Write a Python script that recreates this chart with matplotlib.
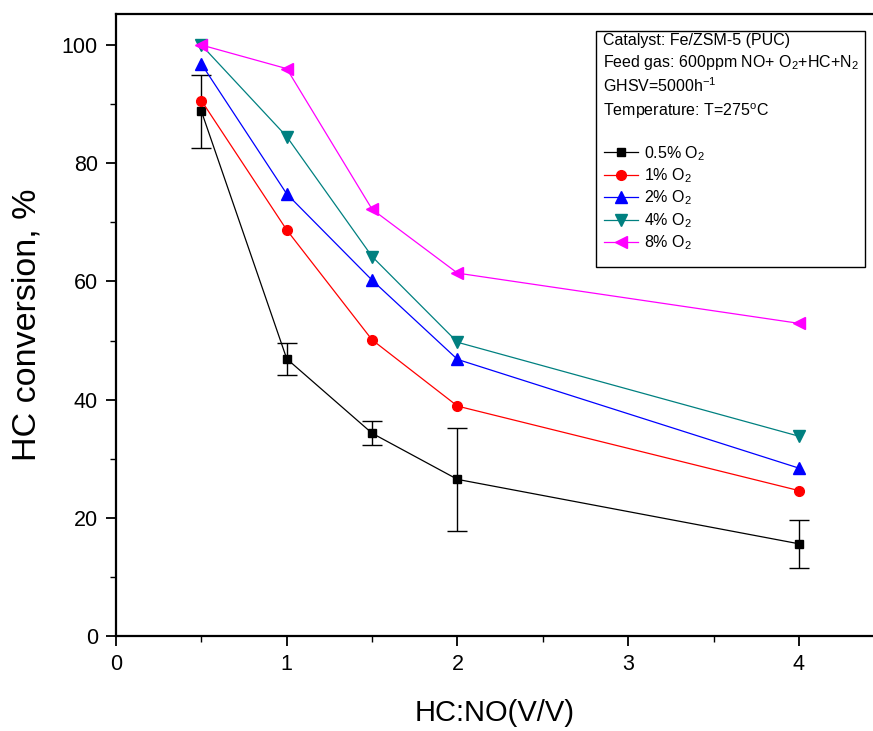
import matplotlib
matplotlib.use('Agg')
import matplotlib.pyplot as plt
from matplotlib.patches import Rectangle
from matplotlib.ticker import MultipleLocator

plt.rcParams['font.family'] = ['Liberation Sans', 'DejaVu Sans']
plt.rcParams['mathtext.fontset'] = 'custom'
plt.rcParams['mathtext.rm'] = 'Liberation Sans'

ratio = [0.5, 1, 1.5, 2, 4]
o2_05 = [88.8, 46.9, 34.3, 26.5, 15.6]
o2_05_err = [6.2, 2.7, 2.0, 8.7, 4.1]
o2_1 = [90.6, 68.7, 50.1, 38.9, 24.6]
o2_2 = [96.8, 74.8, 60.2, 46.8, 28.4]
o2_4 = [100.0, 84.5, 64.2, 49.7, 33.8]
o2_8 = [100.0, 96.0, 72.2, 61.4, 52.9]

labels = ['0.5% O$_2$', '1% O$_2$', '2% O$_2$', '4% O$_2$', '8% O$_2$']

fig = plt.figure(figsize=(8.73, 7.31), dpi=100)
ax = fig.add_axes([116 / 873, 1 - 636 / 731, 1 - 116 / 873, (636 - 14) / 731])

# error bars drawn separately so the legend shows only line + marker
ax.errorbar(ratio, o2_05, yerr=o2_05_err, fmt='none', ecolor='black',
            capsize=7, elinewidth=1.0, capthick=1.0)
ax.plot(ratio, o2_05, color='black', marker='s', markersize=6, linewidth=0.9, label=labels[0])
ax.plot(ratio, o2_1, color='red', marker='o', markersize=7, linewidth=0.9, label=labels[1])
ax.plot(ratio, o2_2, color='blue', marker='^', markersize=8, linewidth=0.9, label=labels[2])
ax.plot(ratio, o2_4, color='#008080', marker='v', markersize=8, linewidth=0.9, label=labels[3])
ax.plot(ratio, o2_8, color='magenta', marker='<', markersize=8, linewidth=0.9, label=labels[4])

ax.set_xlim(0, 757 / 170.75)
ax.set_ylim(0, 100 + 31 / 5.91)
ax.xaxis.set_major_locator(MultipleLocator(1))
ax.xaxis.set_minor_locator(MultipleLocator(0.5))
ax.yaxis.set_major_locator(MultipleLocator(20))
ax.yaxis.set_minor_locator(MultipleLocator(10))
ax.tick_params(which='major', direction='out', length=7, width=1.3, labelsize=15.5, pad=6)
ax.tick_params(which='minor', direction='out', length=4, width=1.0)
ax.spines['right'].set_visible(False)
for s in ['left', 'bottom', 'top']:
    ax.spines[s].set_linewidth(1.6)

ax.set_xlabel('HC:NO(V/V)', fontsize=21, labelpad=17)
ax.set_ylabel('HC conversion, %', fontsize=24.5, labelpad=14)

# info box
box = Rectangle((596 / 873, 1 - 267 / 731), (865 - 596) / 873, (267 - 31) / 731,
                transform=fig.transFigure, fill=False, edgecolor='black', linewidth=1.0, zorder=5)
fig.patches.append(box)
info = ['Catalyst: Fe/ZSM-5 (PUC)',
        'Feed gas: 600ppm NO+ O$_2$+HC+N$_2$',
        'GHSV=5000h$^{-1}$',
        'Temperature: T=275$^{\\mathrm{o}}$C']
info_y = [40, 62, 86, 111]
for t, y in zip(info, info_y):
    fig.text(603 / 873, 1 - y / 731, t, fontsize=11.5, va='center', ha='left')

ax.legend(loc='upper left', bbox_to_anchor=(604 / 873, 1 - 144 / 731),
          bbox_transform=fig.transFigure, frameon=False, fontsize=11.5,
          handlelength=2.1, handletextpad=0.4, labelspacing=0.23,
          borderpad=0, borderaxespad=0)

plt.savefig('out.png', dpi=100)
